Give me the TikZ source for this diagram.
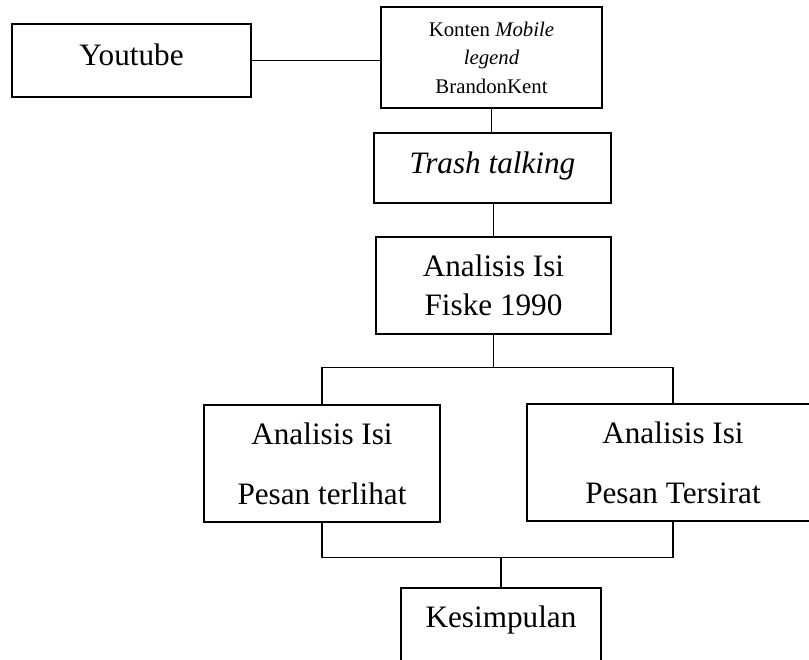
\documentclass[tikz,border=0pt]{standalone}
\usepackage{fontspec}
\setmainfont{Liberation Serif}
\newcommand{\boxfont}{\fontsize{15.6}{19.5}\selectfont}
\newcommand{\notefont}{\fontsize{10.4}{14.2}\selectfont}

\begin{document}
\begin{tikzpicture}[
  x=0.5pt,y=-0.5pt,
  box/.style={draw,line width=0.6pt,align=center,inner sep=0pt,font=\boxfont},
  link/.style={draw,line width=0.6pt}
]
\useasboundingbox (0,0) rectangle (809,659);
\clip (0,0) rectangle (809,659);
\node[box,minimum width=119.5pt,minimum height=36.5pt,text depth=6.2pt] (yt) at (131.5,60.5) {Youtube};
\node[box,font=\notefont,minimum width=110.5pt,minimum height=50.5pt] (konten) at (491.5,57.5) {Konten \textit{Mobile}\\\textit{legend}\\BrandonKent};
\node[box,minimum width=118.5pt,minimum height=35pt,text depth=5.7pt] (trash) at (492.5,168) {\textit{Trash talking}};
\node[box,minimum width=117.5pt,minimum height=48.5pt] (fiske) at (493.5,285.5) {Analisis Isi\\Fiske 1990};
\node[box,minimum width=118pt,minimum height=58.5pt] (lihat) at (322,463.5) {Analisis Isi\\[10.5pt]Pesan terlihat};
\node[box,minimum width=146pt,minimum height=58.5pt] (sirat) at (673,462.5) {Analisis Isi\\[10.5pt]Pesan Tersirat};
\node[box,minimum width=100pt,minimum height=41pt,text depth=12pt] (kes) at (501,629) {Kesimpulan};
% garis penghubung
\draw[link] (yt.east) -- (yt.east -| konten.west);
\draw[link] (konten.south) -- (konten.south |- trash.north);
\draw[link] (fiske.north) -- (fiske.north |- trash.south);
\draw[link] (fiske.south) -- ++(0,33) coordinate (split);
\draw[link] (lihat.north) |- (split) -| (sirat.north);
\draw[link] (lihat.south) -- ++(0,35) coordinate (join) -| (sirat.south);
\draw[link] (kes.north) -- (kes.north |- join);
\end{tikzpicture}
\end{document}
